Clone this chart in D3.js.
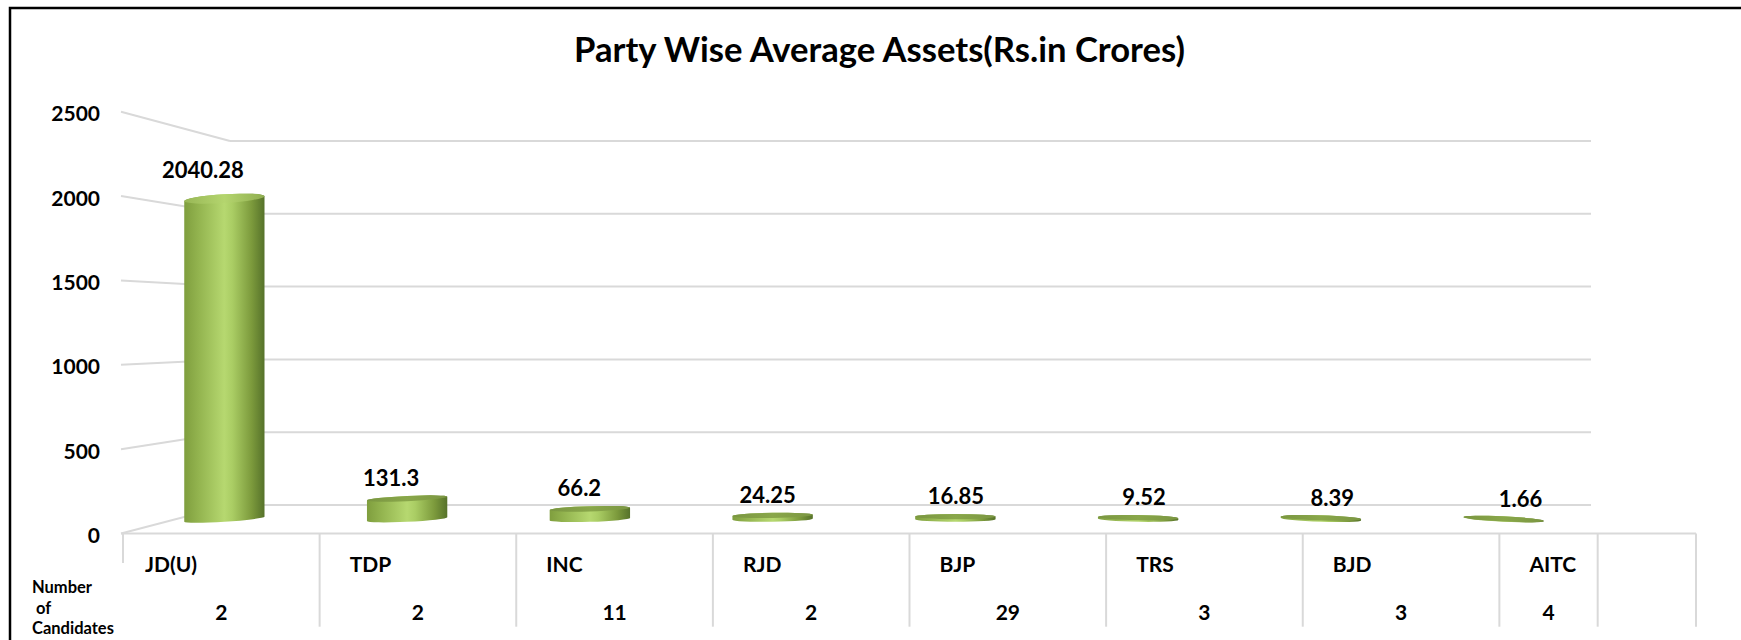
<!DOCTYPE html>
<html>
<head>
<meta charset="utf-8">
<script src="https://cdn.jsdelivr.net/npm/d3@7"></script>
<style>
  html, body { margin: 0; padding: 0; background: #fff; }
  svg { display: block; }
  text { font-family: Lato, "Open Sans", sans-serif; font-weight: bold; fill: #000; }
</style>
</head>
<body>
<div id="chart"></div>
<script>
// ---------- data ----------
const chartTitle = "Party Wise Average Assets(Rs.in Crores)";
const categories = ["JD(U)", "TDP", "INC", "RJD", "BJP", "TRS", "BJD", "AITC"];
const values = [2040.28, 131.3, 66.2, 24.25, 16.85, 9.52, 8.39, 1.66];
const valueLabels = ["2040.28", "131.3", "66.2", "24.25", "16.85", "9.52", "8.39", "1.66"];
const candidates = [2, 2, 11, 2, 29, 3, 3, 4];
const yTicks = [0, 500, 1000, 1500, 2000, 2500];
const rowLabelLines = ["Number", " of", "Candidates"];

// ---------- layout ----------
const W = 1741, H = 640;
const svg = d3.select("#chart").append("svg").attr("width", W).attr("height", H);

const frontLeft = 121, frontRight = 1696, backLeft = 230, backRight = 1591;
const yFront = d3.scaleLinear().domain([0, 2500]).range([533.5, 111.7]);
const yBack  = d3.scaleLinear().domain([0, 2500]).range([505, 141]);
const yMid   = d3.scaleLinear().domain([0, 2500]).range([519.2, 126.4]);
const yLabel = d3.scaleLinear().domain([0, 2500]).range([507, 104.2]);
const xBar   = d3.scaleBand().domain(categories).range([133, 1595]).padding(0);
const vanishX = 940;
const xLab   = d3.scaleBand().domain(categories)
  .range([vanishX + (133 - vanishX) * 1.03, vanishX + (1595 - vanishX) * 1.03]).padding(0);
const xTable = d3.scaleBand().domain(categories).range([123, frontRight]).padding(0);
const eyeY = 326;

// gradients
const defs = svg.append("defs");
const g1 = defs.append("linearGradient").attr("id", "cyl").attr("x1", "0").attr("x2", "1").attr("y1", "0").attr("y2", "0");
[[0, "#7f9e3e"], [0.18, "#93b44f"], [0.5, "#b6d870"], [0.6, "#aacd64"], [0.84, "#7c9a3c"], [1, "#56722a"]]
  .forEach(([o, c]) => g1.append("stop").attr("offset", o).attr("stop-color", c));
const g2 = defs.append("linearGradient").attr("id", "topface").attr("x1", "0").attr("x2", "1").attr("y1", "0").attr("y2", "0");
[[0, "#7a9641"], [0.5, "#89a74a"], [1, "#7b9642"]]
  .forEach(([o, c]) => g2.append("stop").attr("offset", o).attr("stop-color", c));
const g3 = defs.append("linearGradient").attr("id", "topfaceTall").attr("x1", "0").attr("x2", "1").attr("y1", "0").attr("y2", "0");
[[0, "#98b756"], [0.5, "#b4d56e"], [1, "#90ae50"]]
  .forEach(([o, c]) => g3.append("stop").attr("offset", o).attr("stop-color", c));

// frame
svg.append("rect").attr("x", 10).attr("y", 8).attr("width", W).attr("height", H)
  .attr("fill", "none").attr("stroke", "#000").attr("stroke-width", 2.5);

// title
const titleText = svg.append("text").attr("x", 879.5).attr("y", 62.3)
  .attr("text-anchor", "middle").style("font-size", "31px").text(chartTitle);
const tw = titleText.node().getComputedTextLength();
if (tw > 0) titleText.style("font-size", (31 * 611 / tw) + "px");

// grid: back wall + side wall
const grid = svg.append("g").attr("stroke", "#d9d9d9").attr("stroke-width", 2).attr("fill", "none");
grid.selectAll(".back").data(yTicks).join("line")
  .attr("x1", backLeft).attr("x2", backRight)
  .attr("y1", d => yBack(d)).attr("y2", d => yBack(d));
grid.selectAll(".side").data(yTicks).join("line")
  .attr("x1", frontLeft).attr("x2", backLeft)
  .attr("y1", d => yFront(d)).attr("y2", d => yBack(d));
grid.append("line").attr("x1", frontLeft).attr("x2", frontRight)
  .attr("y1", yFront(0)).attr("y2", yFront(0));

// y tick labels
svg.append("g").selectAll("text").data(yTicks).join("text")
  .attr("x", 100).attr("y", d => yFront(d) + 9.5)
  .attr("text-anchor", "end").style("font-size", "21px")
  .text(d => d);

// bars (cylinders)
const rx = xBar.bandwidth() * 0.22;
const ryAt = y => Math.max(2.6, 0.034 * (eyeY - y));
const bars = svg.append("g");
categories.forEach((c, i) => {
  const cx = xBar(c) + xBar.bandwidth() / 2;
  const yb = yMid(0), yt = yMid(values[i]);
  const ang = (cx - vanishX) * 0.005;
  const t = ang * Math.PI / 180;
  const dx = rx * Math.cos(t), dy = rx * Math.sin(t);
  const rb = ryAt(yb), rt = ryAt(yt);
  const body = `M${cx - dx},${yt - dy} L${cx - dx},${yb - dy} ` +
    `A${rx},${rb} ${ang} 0 0 ${cx + dx},${yb + dy} ` +
    `L${cx + dx},${yt + dy} A${rx},${rt} ${ang} 0 0 ${cx - dx},${yt - dy} Z`;
  bars.append("path").attr("d", body).attr("fill", "url(#cyl)");
  bars.append("ellipse").attr("cx", cx).attr("cy", yt).attr("rx", rx).attr("ry", rt)
    .attr("transform", `rotate(${ang},${cx},${yt})`)
    .attr("fill", values[i] > 1000 ? "url(#topfaceTall)" : "url(#topface)");
});

// value labels
svg.append("g").selectAll("text").data(categories).join("text")
  .attr("x", d => xLab(d) + xLab.bandwidth() / 2)
  .attr("y", (d, i) => yLabel(values[i]))
  .attr("text-anchor", "middle").style("font-size", "22px")
  .text((d, i) => valueLabels[i]);

// table
const tableTop = yFront(0), tableBottom = 626.7;
const cellLeft = i => xTable(categories[i]);
const cellRight = i => i < categories.length - 1 ? xTable(categories[i]) + xTable.step()
  : xTable(categories[i]) + xTable.step() / 2;
const tg = svg.append("g").attr("stroke", "#d9d9d9").attr("stroke-width", 2);
tg.append("line").attr("x1", xTable(categories[0])).attr("x2", xTable(categories[0]))
  .attr("y1", tableTop).attr("y2", 563);
categories.forEach((c, i) => {
  const x = cellRight(i);
  tg.append("line").attr("x1", x).attr("x2", x).attr("y1", tableTop).attr("y2", tableBottom);
});
tg.append("line").attr("x1", frontRight).attr("x2", frontRight).attr("y1", tableTop).attr("y2", tableBottom);

svg.append("g").selectAll("text").data(categories).join("text")
  .attr("x", (d, i) => cellLeft(i) + (i === 0 ? 22 : 30))
  .attr("y", 572).style("font-size", "21px").text(d => d);

svg.append("g").selectAll("text").data(candidates).join("text")
  .attr("x", (d, i) => (cellLeft(i) + cellRight(i)) / 2)
  .attr("y", 620).attr("text-anchor", "middle").style("font-size", "21px").text(d => d);

svg.append("g").selectAll("text").data(rowLabelLines).join("text")
  .attr("x", 32).attr("y", (d, i) => [593, 614, 634][i])
  .style("font-size", "16.5px").attr("xml:space", "preserve")
  .text(d => d);
</script>
</body>
</html>
